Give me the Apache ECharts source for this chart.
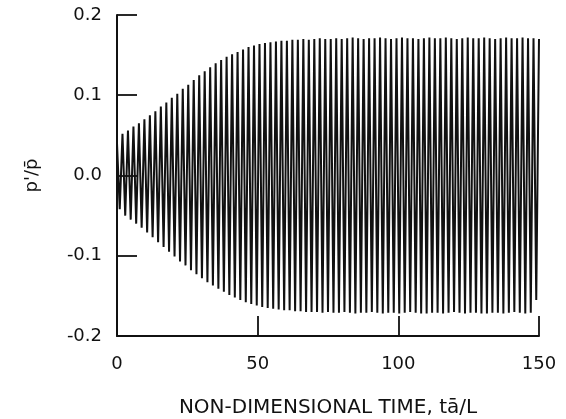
<!DOCTYPE html>
<html>
<head>
<meta charset="utf-8">
<script src="https://cdn.jsdelivr.net/npm/echarts@6/dist/echarts.min.js"></script>
<style>
html,body{margin:0;padding:0;background:#fff;}
#chart{width:566px;height:419px;}
</style>
</head>
<body>
<div id="chart"></div>
<script>
// Peak (max) and trough (min) of each oscillation cycle
var period = 1.948; // non-dimensional time per cycle (about 77 cycles over 0..150)
var pMax = [
  0.040, 0.052, 0.056, 0.061, 0.065, 0.070, 0.075, 0.080, 0.086, 0.091,
  0.097, 0.102, 0.108, 0.113, 0.119, 0.125, 0.130, 0.135, 0.140, 0.144,
  0.148, 0.151, 0.154, 0.157, 0.160, 0.162, 0.164, 0.165, 0.166, 0.167,
  0.168, 0.168, 0.169, 0.169, 0.170, 0.169, 0.170, 0.171, 0.170, 0.170,
  0.171, 0.170, 0.171, 0.172, 0.171, 0.170, 0.171, 0.171, 0.172, 0.171,
  0.170, 0.171, 0.172, 0.171, 0.171, 0.170, 0.171, 0.172, 0.171, 0.171,
  0.172, 0.171, 0.170, 0.171, 0.172, 0.171, 0.171, 0.172, 0.171, 0.170,
  0.171, 0.172, 0.171, 0.171, 0.172, 0.171, 0.171, 0.170
];
var pMin = [
  -0.042, -0.050, -0.055, -0.060, -0.065, -0.071, -0.077, -0.083, -0.089, -0.095,
  -0.101, -0.107, -0.112, -0.118, -0.123, -0.128, -0.133, -0.137, -0.141, -0.145,
  -0.149, -0.152, -0.155, -0.158, -0.160, -0.162, -0.164, -0.165, -0.166, -0.167,
  -0.168, -0.168, -0.169, -0.169, -0.170, -0.170, -0.170, -0.171, -0.170, -0.171,
  -0.171, -0.170, -0.171, -0.172, -0.171, -0.171, -0.170, -0.171, -0.172, -0.171,
  -0.171, -0.172, -0.171, -0.170, -0.171, -0.172, -0.172, -0.171, -0.171, -0.172,
  -0.171, -0.170, -0.171, -0.172, -0.171, -0.171, -0.172, -0.172, -0.171, -0.171,
  -0.172, -0.171, -0.170, -0.171, -0.172, -0.171, -0.155
];
var xTicks = [0, 50, 100, 150];
var yTicks = [-0.2, -0.1, 0.0, 0.1, 0.2];

var seriesData = [];
for (var k = 0; k < pMax.length; k++) {
  seriesData.push([k * period, pMax[k]]);
  if (k < pMin.length) seriesData.push([(k + 0.5) * period, pMin[k]]);
}

var ink = '#111';
var font = 'DejaVu Sans';
var chart = echarts.init(document.getElementById('chart'), null, {renderer: 'canvas'});
chart.setOption({
  animation: false,
  backgroundColor: '#fff',
  grid: {left: 117, right: 27, top: 15, bottom: 83, containLabel: false, outerBoundsMode: 'none'},
  xAxis: {
    type: 'value',
    min: xTicks[0], max: xTicks[xTicks.length - 1], interval: 50,
    name: 'NON-DIMENSIONAL TIME, t\u0101/L',
    nameLocation: 'middle', nameGap: 62,
    nameTextStyle: {color: ink, fontFamily: font, fontSize: 20},
    axisLine: {show: true, onZero: false, lineStyle: {color: ink, width: 2}},
    axisTick: {show: true, inside: true, length: 20, lineStyle: {color: ink, width: 1.8}},
    axisLabel: {color: ink, fontFamily: font, fontSize: 18, margin: 19},
    splitLine: {show: false}
  },
  yAxis: {
    type: 'value',
    min: yTicks[0], max: yTicks[yTicks.length - 1], interval: 0.1,
    name: "p'/p\u0304",
    nameLocation: 'middle', nameGap: 76, nameRotate: 90,
    nameTextStyle: {color: ink, fontFamily: font, fontSize: 18},
    axisLine: {show: true, onZero: false, lineStyle: {color: ink, width: 2}},
    axisTick: {show: true, inside: true, length: 20, lineStyle: {color: ink, width: 1.8}},
    axisLabel: {color: ink, fontFamily: font, fontSize: 18, margin: 15,
      formatter: function (v) { return v.toFixed(1); }},
    splitLine: {show: false}
  },
  series: [{
    type: 'line',
    data: seriesData,
    showSymbol: false,
    smooth: false,
    clip: true,
    lineStyle: {color: '#111', width: 2}
  }]
});
</script>
</body>
</html>
